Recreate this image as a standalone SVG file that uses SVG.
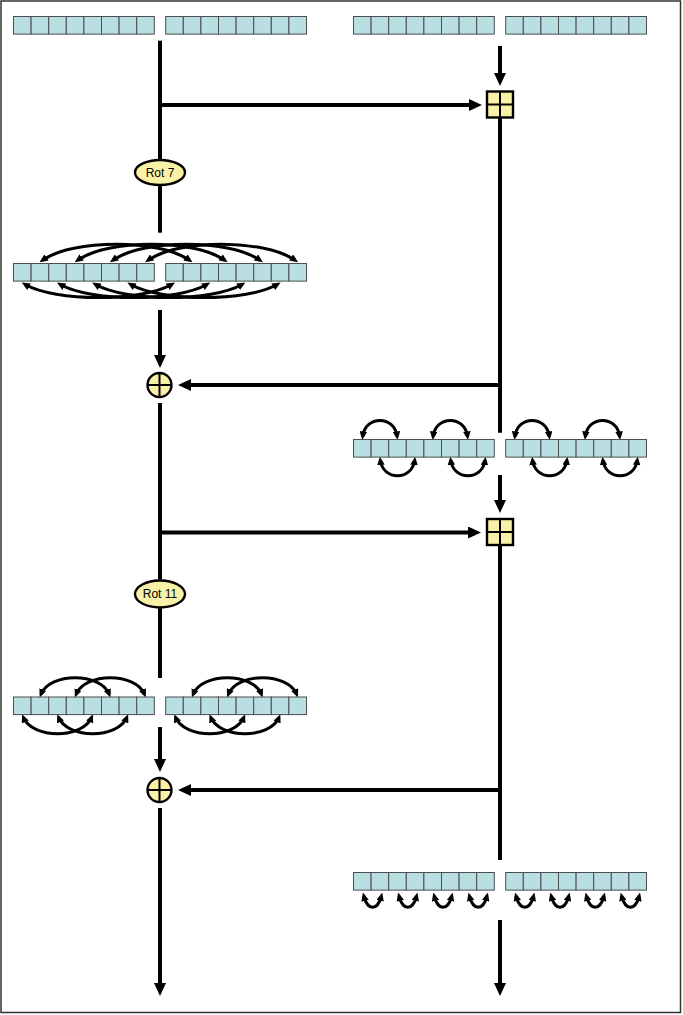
<svg xmlns="http://www.w3.org/2000/svg" xmlns:xlink="http://www.w3.org/1999/xlink" width="683" height="1015" viewBox="0 0 683 1015">
<style>
.cell{fill:#b9dfe3;stroke:#4d4d4d;stroke-width:1}
.wire{stroke:#000;stroke-width:4;fill:none}
.arr{marker-end:url(#ah)}
.arc{stroke:#000;stroke-width:3;fill:none;marker-start:url(#sh);marker-end:url(#sh)}
.op{fill:#f9f2a6;stroke:#000;stroke-width:2.4}
.x{stroke:#000;stroke-width:2}
.lbl{font-family:"Liberation Sans",Arial,sans-serif;font-size:12px;fill:#000;text-anchor:middle}
</style>
<defs>
<marker id="ah" markerUnits="userSpaceOnUse" viewBox="0 0 13 12" refX="5" refY="6" markerWidth="13" markerHeight="12" orient="auto"><path d="M0,0 L13,6 L0,12 z" fill="#000"/></marker>
<marker id="sh" markerUnits="userSpaceOnUse" viewBox="0 0 8.5 7.5" refX="5" refY="3.75" markerWidth="8.5" markerHeight="7.5" orient="auto-start-reverse"><path d="M0,0 L8.5,3.75 L0,7.5 z" fill="#000"/></marker>
<g id="reg">
<rect class="cell" x="0" y="0" width="17.6" height="17.6"/>
<rect class="cell" x="17.6" y="0" width="17.6" height="17.6"/>
<rect class="cell" x="35.2" y="0" width="17.6" height="17.6"/>
<rect class="cell" x="52.8" y="0" width="17.6" height="17.6"/>
<rect class="cell" x="70.4" y="0" width="17.6" height="17.6"/>
<rect class="cell" x="88" y="0" width="17.6" height="17.6"/>
<rect class="cell" x="105.6" y="0" width="17.6" height="17.6"/>
<rect class="cell" x="123.2" y="0" width="17.6" height="17.6"/>
</g>
</defs>
<rect x="1" y="1" width="679.5" height="1011.5" fill="#fff" stroke="#333" stroke-width="1.5"/>

<g id="connectors">
<line class="wire" x1="160" y1="40.7" x2="160" y2="232.7"/>
<line class="wire arr" x1="158" y1="105" x2="474" y2="105"/>
<line class="wire arr" x1="160" y1="310" x2="160" y2="360"/>
<line class="wire" x1="160" y1="403" x2="160" y2="678"/>
<line class="wire arr" x1="158" y1="532.5" x2="473" y2="532.5"/>
<line class="wire arr" x1="160" y1="727" x2="160" y2="764"/>
<line class="wire arr" x1="160" y1="808" x2="160" y2="988"/>
<line class="wire arr" x1="500" y1="46" x2="500" y2="78"/>
<line class="wire" x1="500" y1="117" x2="500" y2="432.7"/>
<line class="wire arr" x1="502" y1="385" x2="186" y2="385"/>
<line class="wire arr" x1="500" y1="475" x2="500" y2="505"/>
<line class="wire" x1="500" y1="545" x2="500" y2="860"/>
<line class="wire arr" x1="502" y1="790" x2="186" y2="790"/>
<line class="wire arr" x1="500" y1="920" x2="500" y2="988"/>
</g>

<g id="swaps-rot7">
<path class="arc" d="M42.4,260.3 C72.9,239 159.1,239 189.6,260.3"/>
<path class="arc" d="M77.6,260.3 C108.1,239 194.3,239 224.8,260.3"/>
<path class="arc" d="M112.8,260.3 C143.3,239 229.5,239 260,260.3"/>
<path class="arc" d="M148,260.3 C178.5,239 264.7,239 295.2,260.3"/>
<path class="arc" d="M24.8,284.3 C55.3,302 141.5,302 172,284.3"/>
<path class="arc" d="M60,284.3 C90.5,302 176.7,302 207.2,284.3"/>
<path class="arc" d="M95.2,284.3 C125.7,302 211.9,302 242.4,284.3"/>
<path class="arc" d="M130.4,284.3 C160.9,302 247.1,302 277.6,284.3"/>
</g>
<g id="swaps-right1">
<path class="arc" d="M362.7,436.5 C365.3,415 394.5,415 397.1,436.5"/>
<path class="arc" d="M433.1,436.5 C435.7,415 464.9,415 467.5,436.5"/>
<path class="arc" d="M514.9,436.5 C517.5,415 546.7,415 549.3,436.5"/>
<path class="arc" d="M585.3,436.5 C587.9,415 617.1,415 619.7,436.5"/>
<path class="arc" d="M380.3,460.1 C382.9,481 412.1,481 414.7,460.1"/>
<path class="arc" d="M450.7,460.1 C453.3,481 482.5,481 485.1,460.1"/>
<path class="arc" d="M532.5,460.1 C535.1,481 564.3,481 566.9,460.1"/>
<path class="arc" d="M602.9,460.1 C605.5,481 634.7,481 637.3,460.1"/>
</g>
<g id="swaps-rot11">
<path class="arc" d="M41,694.2 C49.9,672.3 100.3,672.3 109.2,694.2"/>
<path class="arc" d="M76.2,694.2 C85.1,672.3 135.5,672.3 144.4,694.2"/>
<path class="arc" d="M193.2,694.2 C202.1,672.3 252.5,672.3 261.4,694.2"/>
<path class="arc" d="M228.4,694.2 C237.3,672.3 287.7,672.3 296.6,694.2"/>
<path class="arc" d="M23.4,717.4 C32.3,739.1 82.7,739.1 91.6,717.4"/>
<path class="arc" d="M58.6,717.4 C67.5,739.1 117.9,739.1 126.8,717.4"/>
<path class="arc" d="M175.6,717.4 C184.5,739.1 234.9,739.1 243.8,717.4"/>
<path class="arc" d="M210.8,717.4 C219.7,739.1 270.1,739.1 279,717.4"/>
</g>
<g id="swaps-right2">
<path class="arc" d="M363.8,896 C367.8,911 377.4,911 381.4,896"/>
<path class="arc" d="M399,896 C403,911 412.6,911 416.6,896"/>
<path class="arc" d="M434.2,896 C438.2,911 447.8,911 451.8,896"/>
<path class="arc" d="M469.4,896 C473.4,911 483,911 487,896"/>
<path class="arc" d="M516,896 C520,911 529.6,911 533.6,896"/>
<path class="arc" d="M551.2,896 C555.2,911 564.8,911 568.8,896"/>
<path class="arc" d="M586.4,896 C590.4,911 600,911 604,896"/>
<path class="arc" d="M621.6,896 C625.6,911 635.2,911 639.2,896"/>
</g>

<g id="reg-a-in"><use xlink:href="#reg" href="#reg" x="13.5" y="16.5"/><use xlink:href="#reg" href="#reg" x="165.7" y="16.5"/></g>
<g id="reg-b-in"><use xlink:href="#reg" href="#reg" x="353.5" y="16.5"/><use xlink:href="#reg" href="#reg" x="505.7" y="16.5"/></g>
<g id="reg-a-rot7"><use xlink:href="#reg" href="#reg" x="13.5" y="263.5"/><use xlink:href="#reg" href="#reg" x="165.7" y="263.5"/></g>
<g id="reg-b-1"><use xlink:href="#reg" href="#reg" x="353.5" y="439.5"/><use xlink:href="#reg" href="#reg" x="505.7" y="439.5"/></g>
<g id="reg-a-rot11"><use xlink:href="#reg" href="#reg" x="13.5" y="697"/><use xlink:href="#reg" href="#reg" x="165.7" y="697"/></g>
<g id="reg-b-2"><use xlink:href="#reg" href="#reg" x="353.5" y="872.5"/><use xlink:href="#reg" href="#reg" x="505.7" y="872.5"/></g>

<g id="add1">
<rect class="op" x="487" y="91.5" width="26" height="26"/>
<line class="x" x1="500" y1="91.5" x2="500" y2="117.5"/>
<line class="x" x1="487" y1="104.5" x2="513" y2="104.5"/>
</g>
<g id="add2">
<rect class="op" x="487" y="519" width="26" height="26"/>
<line class="x" x1="500" y1="519" x2="500" y2="545"/>
<line class="x" x1="487" y1="532" x2="513" y2="532"/>
</g>
<g id="rot7">
<ellipse class="op" cx="160" cy="172.5" rx="25" ry="12.5"/>
<text class="lbl" x="160" y="176.8">Rot 7</text>
</g>
<g id="xor1">
<circle class="op" cx="159.5" cy="385" r="12"/>
<line class="x" x1="159.5" y1="373" x2="159.5" y2="397"/>
<line class="x" x1="147.5" y1="385" x2="171.5" y2="385"/>
</g>
<g id="rot11">
<ellipse class="op" cx="160" cy="594" rx="25" ry="13.5"/>
<text class="lbl" x="160" y="598.3">Rot 11</text>
</g>
<g id="xor2">
<circle class="op" cx="159.5" cy="790" r="12"/>
<line class="x" x1="159.5" y1="778" x2="159.5" y2="802"/>
<line class="x" x1="147.5" y1="790" x2="171.5" y2="790"/>
</g>
</svg>
